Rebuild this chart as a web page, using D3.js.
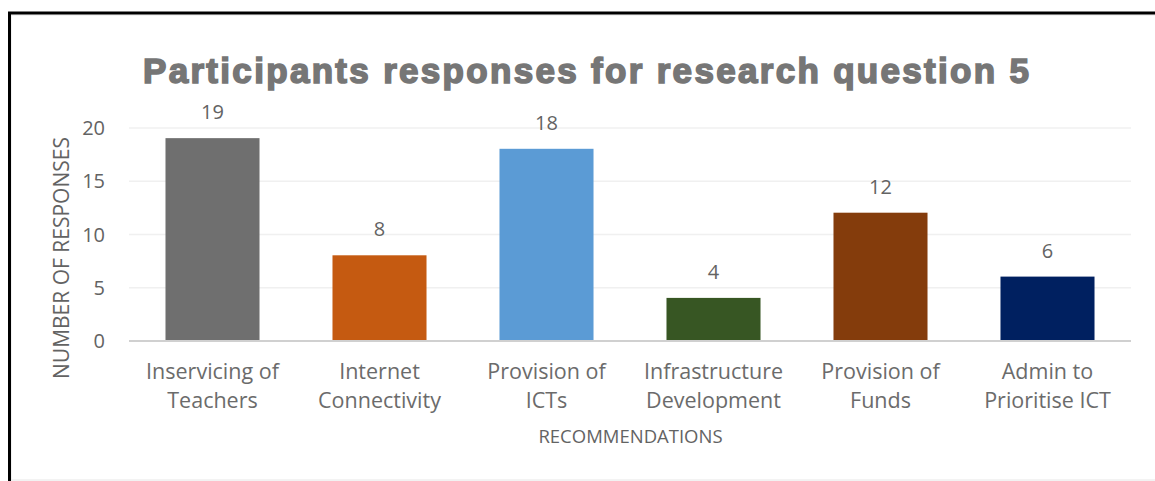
<!DOCTYPE html>
<html lang="en">
<head>
<meta charset="UTF-8">
<title>Participants responses for research question 5</title>
<script src="https://d3js.org/d3.v7.min.js"></script>
<style>
    body { margin: 0; background: #fff; }
    svg { display: block; }
    .tick text, .cat, .val, .axis-title { font-family: "Open Sans", sans-serif; fill: #636363; }
</style>
</head>
<body>
<div id="chart"></div>
<script>
    const categories = [
        ["Inservicing of", "Teachers"],
        ["Internet", "Connectivity"],
        ["Provision of", "ICTs"],
        ["Infrastructure", "Development"],
        ["Provision of", "Funds"],
        ["Admin to", "Prioritise ICT"]
    ];
    const responses = [19, 8, 18, 4, 12, 6];
    const barColors = ["#6f6f6f", "#c55a11", "#5b9bd5", "#375623", "#843c0c", "#002060"];
    const yTicks = [0, 5, 10, 15, 20];

    const W = 1155, H = 481;
    const svg = d3.select("#chart").append("svg")
        .attr("width", W).attr("height", H);

    // outer frame: black border top/left, faint chart-area border inside
    svg.append("rect")
        .attr("x", 11).attr("y", 15).attr("width", 1160).attr("height", 465)
        .attr("fill", "none").attr("stroke", "#e6e6e6").attr("stroke-width", 1);
    svg.append("path")
        .attr("d", "M9.5,500 V13 H1160")
        .attr("fill", "none").attr("stroke", "#000").attr("stroke-width", 3);

    const plot = { left: 129, right: 1131, top: 127.5, bottom: 340.5 };

    const x = d3.scaleBand()
        .domain(d3.range(categories.length))
        .range([plot.left, plot.right])
        .paddingInner(0.437)
        .paddingOuter(0.2185);

    const y = d3.scaleLinear()
        .domain([0, 20])
        .range([plot.bottom, plot.top]);

    // gridlines + y labels
    const yAxis = svg.append("g")
        .attr("transform", `translate(${plot.left},0)`)
        .call(d3.axisLeft(y).tickValues(yTicks).tickSize(-(plot.right - plot.left)).tickPadding(24));
    yAxis.select(".domain").remove();
    yAxis.selectAll(".tick line").attr("stroke", "#f0f0f0").attr("stroke-width", 1.5);
    yAxis.selectAll(".tick text").style("font-size", "20px").attr("dy", "0.35em");

    // bars
    svg.selectAll(".bar")
        .data(responses)
        .join("rect")
        .attr("class", "bar")
        .attr("x", (d, i) => x(i))
        .attr("width", x.bandwidth())
        .attr("y", d => y(d))
        .attr("height", d => y(0) - y(d))
        .attr("fill", (d, i) => barColors[i]);

    // baseline
    svg.append("line")
        .attr("x1", plot.left).attr("x2", plot.right)
        .attr("y1", y(0) + 0.5).attr("y2", y(0) + 0.5)
        .attr("stroke", "#d0d0d0").attr("stroke-width", 2);

    // value labels
    svg.selectAll(".val")
        .data(responses)
        .join("text")
        .attr("class", "val")
        .attr("x", (d, i) => x(i) + x.bandwidth() / 2)
        .attr("y", d => y(d) - 19)
        .attr("text-anchor", "middle")
        .style("font-size", "20px")
        .text(d => d);

    // category labels (two lines)
    const cats = svg.selectAll(".cat")
        .data(categories)
        .join("text")
        .attr("class", "cat")
        .attr("text-anchor", "middle")
        .style("font-size", "21.5px")
        .style("fill", "#6b6b6b");
    cats.each(function (lines, i) {
        d3.select(this).selectAll("tspan")
            .data(lines)
            .join("tspan")
            .attr("x", x(i) + x.bandwidth() / 2)
            .attr("y", (l, j) => 379 + j * 29)
            .text(l => l);
    });

    // axis titles
    svg.append("text")
        .attr("class", "axis-title")
        .attr("transform", `translate(69,258) rotate(-90)`)
        .attr("text-anchor", "middle")
        .style("font-size", "21px")
        .text("NUMBER OF RESPONSES");

    svg.append("text")
        .attr("class", "axis-title")
        .attr("x", 630.5).attr("y", 443)
        .attr("text-anchor", "middle")
        .style("font-size", "18.5px")
        .text("RECOMMENDATIONS");

    // chart title
    svg.append("text")
        .attr("x", 143).attr("y", 83)
        .attr("textLength", 886).attr("lengthAdjust", "spacing")
        .style("font-family", "'Liberation Sans', Arial, sans-serif")
        .style("font-weight", "bold")
        .style("font-size", "35px")
        .attr("fill", "#767676")
        .attr("stroke", "#767676")
        .attr("stroke-width", 1.6)
        .text("Participants responses for research question 5");
</script>
</body>
</html>
